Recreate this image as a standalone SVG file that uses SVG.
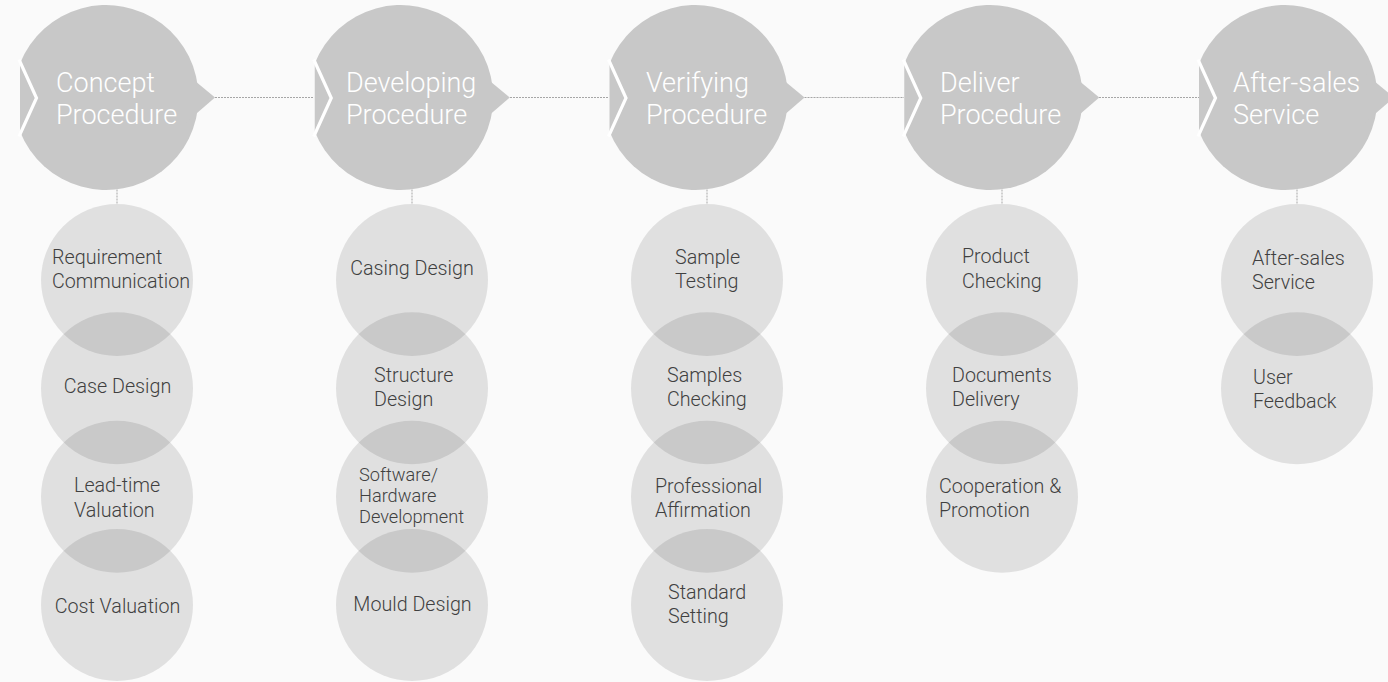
<svg xmlns="http://www.w3.org/2000/svg" xmlns:xlink="http://www.w3.org/1999/xlink" width="1388" height="682" viewBox="0 0 1388 682">
<style>
.bg{fill:#fafafa}
.big{fill:#c8c8c8}
.chev{fill:none;stroke:#ffffff;stroke-width:3.2;stroke-linejoin:miter}
.small{fill:#000000;fill-opacity:0.1}
.conn{fill:none;stroke:#a6a6a6;stroke-width:1;stroke-dasharray:2 1}
.tb{font-family:"Helvetica Neue",Roboto,"Liberation Sans",sans-serif;font-weight:300;font-size:27px;fill:#ffffff}
.ts{font-family:"Helvetica Neue",Roboto,"Liberation Sans",sans-serif;font-weight:300;font-size:19.7px;fill:#404040}
.ts3{font-size:18.2px}
.mid{text-anchor:middle}
</style>
<defs>
<g id="bigShape">
<path class="big" d="M -86 -34.06 A 92.5 92.5 0 1 1 -86 34.06 Z"/>
<polygon class="big" points="80,-24 109,0 80,25"/>
<polyline class="chev" points="-87,-38 -69.5,0.5 -87,39"/>
</g>
</defs>
<rect class="bg" x="0" y="0" width="1388" height="682"/>

<g id="connectors">
<line class="conn" x1="215" y1="97.5" x2="314" y2="97.5"/>
<line class="conn" x1="510" y1="97.5" x2="609" y2="97.5"/>
<line class="conn" x1="804.5" y1="97.5" x2="904" y2="97.5"/>
<line class="conn" x1="1099" y1="97.5" x2="1199" y2="97.5"/>
<line class="conn" x1="117" y1="189.5" x2="117" y2="204"/>
<line class="conn" x1="412" y1="189.5" x2="412" y2="204"/>
<line class="conn" x1="707" y1="189.5" x2="707" y2="204"/>
<line class="conn" x1="1002" y1="189.5" x2="1002" y2="204"/>
<line class="conn" x1="1297" y1="189.5" x2="1297" y2="204"/>
</g>

<g id="concept-procedure">
<use xlink:href="#bigShape" transform="translate(106,97.5)"/>
<text class="tb"><tspan x="56" y="92">Concept</tspan><tspan x="56" y="124">Procedure</tspan></text>
</g>
<g id="developing-procedure">
<use xlink:href="#bigShape" transform="translate(400.75,97.5)"/>
<text class="tb"><tspan x="346" y="92">Developing</tspan><tspan x="346" y="124">Procedure</tspan></text>
</g>
<g id="verifying-procedure">
<use xlink:href="#bigShape" transform="translate(695.5,97.5)"/>
<text class="tb"><tspan x="646" y="92">Verifying</tspan><tspan x="646" y="124">Procedure</tspan></text>
</g>
<g id="deliver-procedure">
<use xlink:href="#bigShape" transform="translate(990.25,97.5)"/>
<text class="tb"><tspan x="940" y="92">Deliver</tspan><tspan x="940" y="124">Procedure</tspan></text>
</g>
<g id="after-sales-service-main">
<use xlink:href="#bigShape" transform="translate(1285,97.5)"/>
<text class="tb"><tspan x="1233" y="92">After-sales</tspan><tspan x="1233" y="124">Service</tspan></text>
</g>

<g id="requirement-communication">
<circle class="small" cx="117" cy="280" r="76"/>
<text class="ts"><tspan x="52" y="264">Requirement</tspan><tspan x="52" y="288">Communication</tspan></text>
</g>
<g id="case-design">
<circle class="small" cx="117" cy="388.3" r="76"/>
<text class="ts mid" x="117.5" y="393">Case Design</text>
</g>
<g id="lead-time-valuation">
<circle class="small" cx="117" cy="496.7" r="76"/>
<text class="ts"><tspan x="74" y="492">Lead-time</tspan><tspan x="74" y="517">Valuation</tspan></text>
</g>
<g id="cost-valuation">
<circle class="small" cx="117" cy="605" r="76"/>
<text class="ts mid" x="117.5" y="612.5">Cost Valuation</text>
</g>

<g id="casing-design">
<circle class="small" cx="412" cy="280" r="76"/>
<text class="ts mid" x="412" y="275">Casing Design</text>
</g>
<g id="structure-design">
<circle class="small" cx="412" cy="388.3" r="76"/>
<text class="ts"><tspan x="374" y="382">Structure</tspan><tspan x="374" y="406">Design</tspan></text>
</g>
<g id="software-hardware-development">
<circle class="small" cx="412" cy="496.7" r="76"/>
<text class="ts ts3"><tspan x="359" y="481">Software/</tspan><tspan x="359" y="502">Hardware</tspan><tspan x="359" y="523">Development</tspan></text>
</g>
<g id="mould-design">
<circle class="small" cx="412" cy="605" r="76"/>
<text class="ts mid" x="412.5" y="611">Mould Design</text>
</g>

<g id="sample-testing">
<circle class="small" cx="707" cy="280" r="76"/>
<text class="ts"><tspan x="675" y="263.5">Sample</tspan><tspan x="675" y="287.5">Testing</tspan></text>
</g>
<g id="samples-checking">
<circle class="small" cx="707" cy="388.3" r="76"/>
<text class="ts"><tspan x="667" y="382">Samples</tspan><tspan x="667" y="406">Checking</tspan></text>
</g>
<g id="professional-affirmation">
<circle class="small" cx="707" cy="496.7" r="76"/>
<text class="ts"><tspan x="655" y="493">Professional</tspan><tspan x="655" y="517">Affirmation</tspan></text>
</g>
<g id="standard-setting">
<circle class="small" cx="707" cy="605" r="76"/>
<text class="ts"><tspan x="668" y="599">Standard</tspan><tspan x="668" y="623">Setting</tspan></text>
</g>

<g id="product-checking">
<circle class="small" cx="1002" cy="280" r="76"/>
<text class="ts"><tspan x="962" y="263">Product</tspan><tspan x="962" y="287.5">Checking</tspan></text>
</g>
<g id="documents-delivery">
<circle class="small" cx="1002" cy="388.3" r="76"/>
<text class="ts"><tspan x="952" y="382">Documents</tspan><tspan x="952" y="406">Delivery</tspan></text>
</g>
<g id="cooperation-promotion">
<circle class="small" cx="1002" cy="496.7" r="76"/>
<text class="ts"><tspan x="939" y="493">Cooperation &amp;</tspan><tspan x="939" y="516.5">Promotion</tspan></text>
</g>

<g id="after-sales-service">
<circle class="small" cx="1297" cy="280" r="76"/>
<text class="ts"><tspan x="1252" y="265">After-sales</tspan><tspan x="1252" y="288.5">Service</tspan></text>
</g>
<g id="user-feedback">
<circle class="small" cx="1297" cy="388.3" r="76"/>
<text class="ts"><tspan x="1253" y="383.5">User</tspan><tspan x="1253" y="407.5">Feedback</tspan></text>
</g>
</svg>
